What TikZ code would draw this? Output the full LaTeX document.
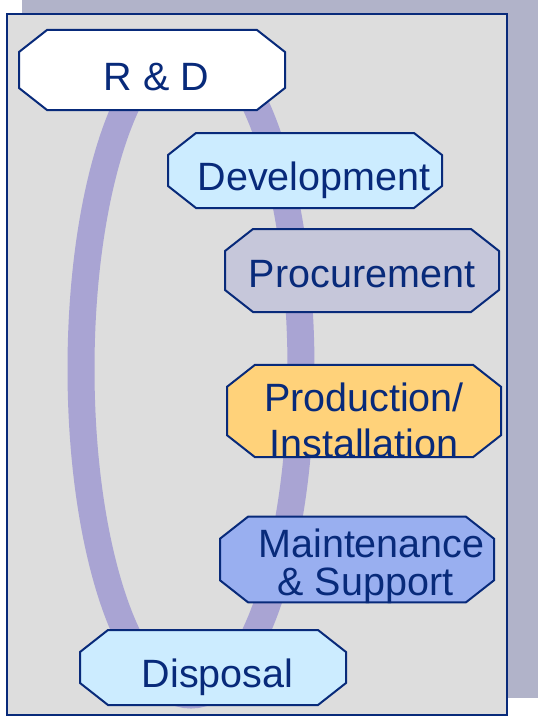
\documentclass[tikz,border=0pt]{standalone}
\usepackage{fontspec}
\setmainfont{Liberation Sans}
\usetikzlibrary{positioning}
\definecolor{navy}{RGB}{8,42,122}
\definecolor{shadowc}{RGB}{177,179,201}
\definecolor{bggray}{RGB}{221,221,221}
\definecolor{ringc}{RGB}{169,164,211}
\definecolor{paleblue}{RGB}{204,236,255}
\definecolor{procgray}{RGB}{198,199,218}
\definecolor{prodgold}{RGB}{255,210,122}
\definecolor{maintblue}{RGB}{153,175,240}
\newcommand\ppbb{path picture bounding box}
\tikzset{
	stage/.style = {rectangle, minimum width=276pt, minimum height=83pt, inner sep=0pt,
		align=center, text=navy,
		path picture={\draw[draw=navy, line width=2pt, fill=#1]
			([xshift=29pt, yshift=-1pt] \ppbb.north west) -- ([xshift=-29pt, yshift=-1pt] \ppbb.north east)
			-- ([xshift=-1pt, yshift=-23pt] \ppbb.north east) -- ([xshift=-1pt, yshift=23pt] \ppbb.south east)
			-- ([xshift=-29pt, yshift=1pt] \ppbb.south east) -- ([xshift=29pt, yshift=1pt] \ppbb.south west)
			-- ([xshift=1pt, yshift=23pt] \ppbb.south west) -- ([xshift=1pt, yshift=-23pt] \ppbb.north west)
			-- cycle;
		},% end of path picture
	},
	oneline/.style = {text height=40pt, text depth=0pt},
	ring/.style = {draw=ringc, line width=27pt}
}
\begin{document}
\begin{tikzpicture}[x=1pt, y=-1pt, font=\fontsize{39.5}{46}\selectfont]
\useasboundingbox (0,0) rectangle (538,717);
% Frame and its shadow
\fill[shadowc] (22,0) rectangle (538,698);
\draw[navy, line width=2pt, fill=bggray] (7,13.7) rectangle (507,715);
% Life cycle ring
\draw[ring] (191,369) ellipse [x radius=110, y radius=326];

% Placement of the stages
\node (rnd) [stage=white, oneline, minimum width=268pt, minimum height=82pt] at (152,70) {\hspace*{9pt}R \& D};
\node (dev) [stage=paleblue, oneline, minimum height=77pt] at (305,170.5) {\hspace*{18pt}Development};
\node (proc) [stage=procgray, text height=33pt, text depth=0pt, minimum height=85pt] at (362,270.5) {Procurement};
\node (prod) [stage=prodgold, minimum height=84pt] at (364,411) {\rule{0pt}{48pt}Production/\\Installation};
\node (maint) [stage=maintblue, font=\fontsize{39.5}{38}\selectfont] at (357,559.5) {\rule{0pt}{41.4pt}\hspace*{29pt}Maintenance\\\hspace*{17pt}\& Support};
\node (disp) [stage=paleblue, oneline, minimum width=268pt, minimum height=77pt] at (213,667.5) {\hspace*{9pt}Disposal};

\end{tikzpicture}
\end{document}
